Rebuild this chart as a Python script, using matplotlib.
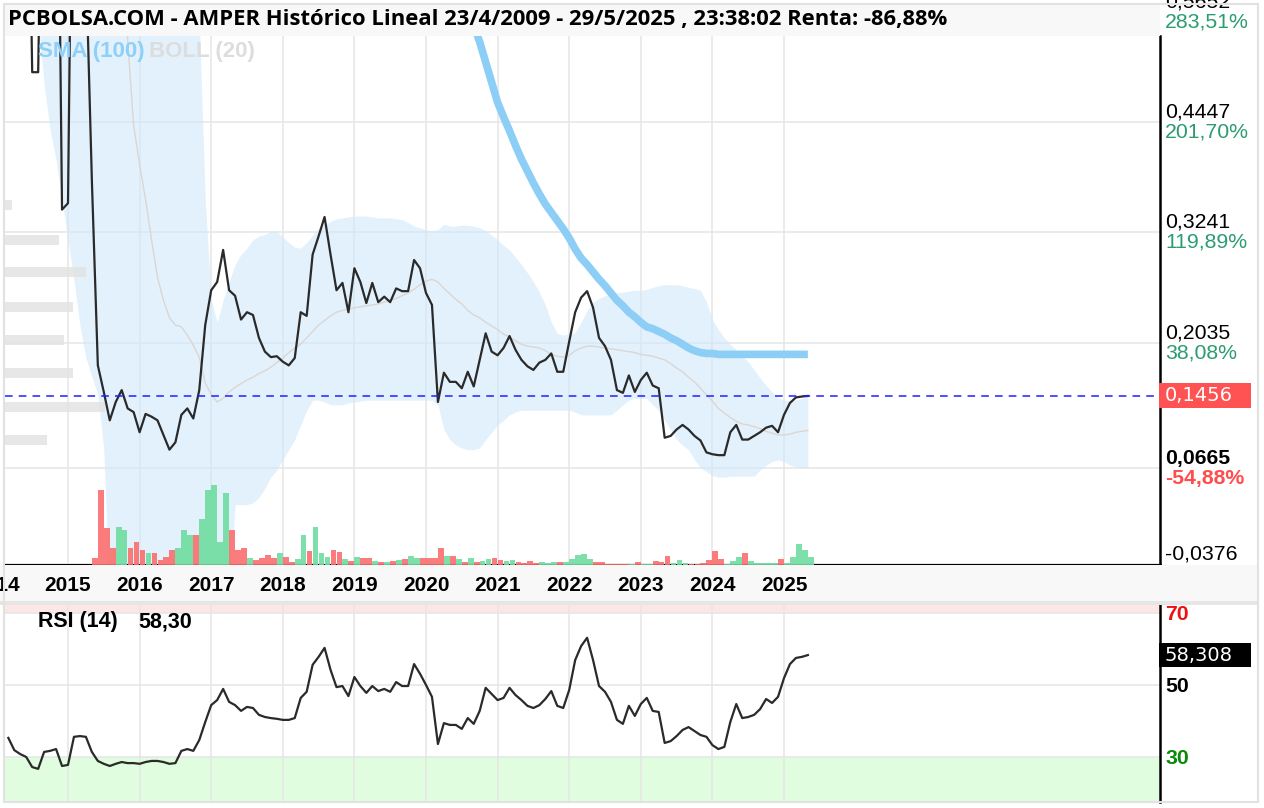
import numpy as np
import matplotlib
matplotlib.use("Agg")
import matplotlib.pyplot as plt
from matplotlib.patches import Rectangle

# ---- datos mensuales (marzo 2014 .. mayo 2025) ----
inicio = 2014 + 2 / 12

precio = [0.90, 0.90, 0.90, 0.90, 0.499, 0.499, 0.90, 0.95, 0.95, 0.349,
          0.356, 0.95, 0.95, 0.62, 0.381, 0.179, 0.150, 0.119, 0.139, 0.152,
          0.132, 0.128, 0.106, 0.126, 0.123, 0.119, 0.103, 0.087, 0.095, 0.125,
          0.132, 0.121, 0.152, 0.223, 0.261, 0.270, 0.305, 0.261, 0.255, 0.229,
          0.237, 0.234, 0.209, 0.194, 0.188, 0.189, 0.183, 0.179, 0.187, 0.237,
          0.233, 0.300, 0.320, 0.341, 0.300, 0.261, 0.269, 0.237, 0.285, 0.270,
          0.247, 0.269, 0.248, 0.254, 0.248, 0.263, 0.260, 0.260, 0.294, 0.285,
          0.258, 0.245, 0.139, 0.171, 0.161, 0.161, 0.154, 0.172, 0.156, 0.185,
          0.214, 0.194, 0.190, 0.198, 0.211, 0.196, 0.185, 0.178, 0.174, 0.182,
          0.185, 0.192, 0.172, 0.172, 0.205, 0.237, 0.253, 0.260, 0.242, 0.209,
          0.200, 0.185, 0.152, 0.149, 0.168, 0.150, 0.163, 0.171, 0.157, 0.154,
          0.100, 0.102, 0.109, 0.114, 0.109, 0.102, 0.097, 0.084, 0.082, 0.081,
          0.081, 0.106, 0.114, 0.098, 0.098, 0.102, 0.106, 0.111, 0.113, 0.106,
          0.125, 0.138, 0.144, 0.145, 0.1456]

boll_sup = [0.80] * 32 + [
          0.556, 0.360, 0.250, 0.226, 0.250, 0.270, 0.289, 0.300, 0.307, 0.316,
          0.320, 0.322, 0.325, 0.325, 0.319, 0.313, 0.308, 0.307, 0.313, 0.321,
          0.329, 0.333, 0.336, 0.339, 0.340, 0.341, 0.342, 0.342, 0.342, 0.341,
          0.340, 0.340, 0.340, 0.339, 0.338, 0.335, 0.331, 0.329, 0.327, 0.326,
          0.327, 0.333, 0.331, 0.331, 0.332, 0.332, 0.331, 0.329, 0.326, 0.321,
          0.316, 0.310, 0.305, 0.297, 0.289, 0.280, 0.270, 0.259, 0.245, 0.226,
          0.214, 0.212, 0.213, 0.215, 0.226, 0.239, 0.248, 0.252, 0.255, 0.257,
          0.258, 0.259, 0.260, 0.261, 0.261, 0.262, 0.264, 0.266, 0.267, 0.267,
          0.267, 0.266, 0.264, 0.263, 0.261, 0.248, 0.229, 0.218, 0.209, 0.202,
          0.196, 0.189, 0.183, 0.174, 0.165, 0.157, 0.150, 0.144, 0.141, 0.140,
          0.141, 0.143, 0.144]

boll_med = [0.70] * 20 + [
          0.534, 0.441, 0.398, 0.360, 0.316, 0.275, 0.250, 0.231, 0.223, 0.221,
          0.212, 0.201, 0.188, 0.160, 0.147, 0.139, 0.143, 0.150, 0.155, 0.159,
          0.163, 0.166, 0.170, 0.173, 0.177, 0.182, 0.187, 0.193, 0.198, 0.202,
          0.209, 0.216, 0.223, 0.228, 0.233, 0.237, 0.239, 0.240, 0.242, 0.243,
          0.244, 0.245, 0.246, 0.248, 0.250, 0.252, 0.255, 0.258, 0.262, 0.267,
          0.271, 0.273, 0.270, 0.263, 0.257, 0.251, 0.246, 0.239, 0.234, 0.231,
          0.226, 0.222, 0.218, 0.213, 0.210, 0.206, 0.202, 0.200, 0.199, 0.198,
          0.195, 0.191, 0.189, 0.188, 0.190, 0.195, 0.198, 0.200, 0.200, 0.199,
          0.198, 0.197, 0.196, 0.195, 0.194, 0.193, 0.191, 0.190, 0.189, 0.187,
          0.185, 0.181, 0.176, 0.172, 0.166, 0.161, 0.154, 0.147, 0.140, 0.132,
          0.127, 0.122, 0.118, 0.115, 0.114, 0.112, 0.110, 0.107, 0.105, 0.103,
          0.103, 0.104, 0.106, 0.107, 0.108]

boll_inf = [0.62, 0.62, 0.62, 0.62, 0.60,
          0.556, 0.485, 0.436, 0.403, 0.360, 0.316, 0.272, 0.223, 0.187, 0.167,
          0.147, 0.087] + [-0.08] * 21 + [
          0.027, 0.027, 0.027, 0.029, 0.035, 0.045, 0.057, 0.065,
          0.076, 0.087, 0.098, 0.114, 0.130, 0.141,
          0.141, 0.139, 0.136, 0.136, 0.136, 0.138, 0.139, 0.140, 0.141, 0.141,
          0.141, 0.141, 0.141, 0.141, 0.141, 0.141, 0.141, 0.141, 0.141, 0.141,
          0.136, 0.109, 0.098, 0.092, 0.089, 0.087, 0.087, 0.089, 0.098, 0.106,
          0.114, 0.119, 0.125, 0.128, 0.130, 0.130, 0.130, 0.130, 0.130, 0.130,
          0.130, 0.130, 0.130, 0.128, 0.125, 0.125, 0.125, 0.125, 0.125, 0.125,
          0.130, 0.136, 0.141, 0.143, 0.143, 0.143, 0.136, 0.130, 0.119, 0.109,
          0.098, 0.092, 0.087, 0.076, 0.067, 0.063, 0.059, 0.057, 0.057, 0.058,
          0.058, 0.058, 0.058, 0.058, 0.065, 0.070, 0.074, 0.076, 0.074, 0.070,
          0.068, 0.067, 0.067]

# SMA(100) empieza en el mes 77 de la serie
sma_desde = 77
sma = [0.58, 0.550, 0.532, 0.510, 0.488, 0.466, 0.450, 0.435, 0.419, 0.404,
       0.391, 0.378, 0.366, 0.355, 0.346, 0.337, 0.328, 0.318, 0.306, 0.296,
       0.289, 0.281, 0.273, 0.266, 0.258, 0.250, 0.244, 0.237, 0.232, 0.226,
       0.221, 0.219, 0.216, 0.213, 0.209, 0.206, 0.202, 0.198, 0.195, 0.193,
       0.192, 0.192, 0.191, 0.191, 0.191, 0.191, 0.191, 0.191, 0.191, 0.191,
       0.191, 0.191, 0.191, 0.191, 0.191, 0.191, 0.191, 0.191]

volumen = [0] * 14 + [
       7, 75, 37, 17, 38, 35, 17, 23, 15, 12,
       12, 5, 8, 15, 17, 35, 30, 30, 46, 75,
       80, 23, 72, 35, 15, 17, 7, 5, 7, 10,
       7, 12, 8, 3, 6, 30, 14, 38, 12, 8,
       15, 13, 6, 4, 8, 7, 7, 4, 3, 3,
       4, 5, 6, 9, 7, 7, 7, 7, 17, 9,
       9, 6, 3, 7, 3, 4, 6, 7, 5, 4,
       5, 3, 2, 4, 2, 3, 2, 3, 3, 3,
       6, 10, 11, 6, 3, 3, 1, 1, 1, 1,
       1, 3, 1, 1, 4, 3, 9, 2, 5, 2,
       1, 1, 2, 5, 14, 6, 1, 4, 8, 12,
       4, 2, 2, 2, 2, 6, 2, 8, 21, 15, 8]

rsi = [35.3, 31.9, 30.8, 30.0, 27.2, 26.7, 31.4, 31.7, 32.2, 27.5,
       27.8, 35.6, 35.8, 35.6, 31.4, 28.9, 28.1, 27.5, 28.1, 28.6,
       28.3, 28.3, 28.1, 28.6, 28.9, 28.9, 28.6, 28.1, 28.3, 31.7,
       32.2, 31.7, 34.7, 39.7, 44.4, 45.8, 48.9, 45.3, 44.4, 42.8,
       43.9, 43.6, 41.7, 41.1, 40.8, 40.6, 40.3, 40.3, 40.8, 46.4,
       48.1, 55.6, 57.8, 60.3, 54.2, 49.4, 49.7, 46.9, 52.2, 49.7,
       47.8, 49.7, 48.3, 48.9, 48.1, 50.8, 49.7, 49.7, 55.8, 53.1,
       50.0, 46.7, 33.6, 39.4, 38.9, 38.9, 37.8, 40.8, 39.2, 42.8,
       49.2, 47.5, 45.8, 46.4, 49.2, 47.2, 45.8, 44.2, 43.6, 44.4,
       46.1, 48.3, 44.2, 43.6, 48.6, 56.9, 60.8, 63.1, 56.9, 49.7,
       48.1, 45.3, 40.3, 39.2, 44.2, 41.4, 44.7, 46.4, 42.8, 42.5,
       33.9, 34.4, 35.8, 37.5, 38.3, 37.2, 36.1, 35.6, 33.3, 32.2,
       32.8, 39.7, 44.7, 40.8, 41.1, 41.7, 43.3, 46.1, 45.0, 46.7,
       51.9, 55.8, 57.5, 57.8, 58.3]

# perfil de volumen por precio (barras grises a la izquierda)
perfil_niveles = [0.354, 0.316, 0.281, 0.243, 0.207, 0.171, 0.134, 0.098]
perfil_vol = [7, 54, 81, 68, 59, 68, 100, 42]

niveles = [0.5652, 0.4447, 0.3241, 0.2035, 0.0665, -0.0376]
etq_precio = ["0,5652", "0,4447", "0,3241", "0,2035", "0,0665", "-0,0376"]
etq_pct = ["283,51%", "201,70%", "119,89%", "38,08%", "-54,88%", "-125,50%"]
ultimo = 0.1456
rsi_ultimo = 58.308
anios = list(range(2014, 2026))

titulo = "PCBOLSA.COM - AMPER Histórico Lineal 23/4/2009 - 29/5/2025 , 23:38:02 Renta: -86,88%"

# ---- figura ----
W, H = 1264, 808
fig = plt.figure(figsize=(W / 100, H / 100), dpi=100)
fig.patch.set_facecolor("white")


def fx(px):
    return px / W


def fy(py):
    return 1 - py / H


t = inicio + np.arange(len(precio)) / 12
x0 = 2015 - 63 / 71.6
x1 = 2015 + 1092 / 71.6
grid_c = "#e6e6e6"
verde = "#2b9c70"
rojo = "#ff4d4d"

ax = fig.add_axes([fx(5), fy(565), fx(1160) - fx(5), fy(36) - fy(565)])
ax.set_xlim(x0, x1)
ax.set_ylim(-0.0389, 0.5385)
for a in anios:
    ax.axvline(a, color=grid_c, lw=1.1, zorder=0)
for v in niveles:
    ax.axhline(v, color=grid_c, lw=1.1, zorder=0)

ax.fill_between(t, boll_inf, boll_sup, color="#cfe8fb", alpha=0.6, lw=0, zorder=1)
ax.barh(perfil_niveles, np.array(perfil_vol) / 71.6, left=x0, height=0.011,
        color="#e3e3e3", alpha=0.85, zorder=1)
ax.plot(t, boll_med, color="#dcd6d2", lw=1.0, zorder=2)
ax.plot(t[sma_desde:sma_desde + len(sma)], sma, color="#8dcef7", lw=5.5,
        solid_capstyle="butt", zorder=3)
ax.plot(t, precio, color="#2a2a2a", lw=1.6, zorder=4)
ax.axhline(ultimo, color="#2020ff", lw=1.1, ls=(0, (5, 4)), zorder=5)

for s in ["top", "left"]:
    ax.spines[s].set_visible(False)
ax.spines["right"].set_linewidth(1.8)
ax.spines["bottom"].set_linewidth(2.2)
ax.set_xticks([])
ax.set_yticks([])

for v, e, p in zip(niveles, etq_precio, etq_pct):
    neg = v < ultimo
    bold = "bold" if e == "0,0665" else "normal"
    ax.annotate(e, xy=(1, v), xycoords=("axes fraction", "data"), xytext=(3.6, 7.2),
                textcoords="offset points", va="center", ha="left", fontsize=15.3,
                family="Liberation Sans", fontweight=bold, color="black",
                annotation_clip=False)
    ax.annotate(p, xy=(1, v), xycoords=("axes fraction", "data"), xytext=(3.6, -7.2),
                textcoords="offset points", va="center", ha="left", fontsize=15.3,
                family="Liberation Sans", fontweight=bold,
                color=rojo if neg else verde, annotation_clip=False)

# caja del último precio
ax.add_patch(Rectangle((1 - 1 / 1155, ultimo - 0.0136), 92 / 1155, 0.0273,
                       transform=ax.get_yaxis_transform(), facecolor="#ff5252",
                       edgecolor="none", clip_on=False, zorder=6))
ax.annotate("0,1456", xy=(1, ultimo), xycoords=("axes fraction", "data"),
            xytext=(3.6, 0), textcoords="offset points", va="center", ha="left",
            fontsize=14, family="DejaVu Sans", color="white", annotation_clip=False,
            zorder=7)

ax.text((38 - 5) / 1155, 1 - 16 / 529, "SMA (100)", transform=ax.transAxes,
        color="#8fd0f8", fontsize=16, fontweight="bold", family="Liberation Sans",
        va="center", zorder=6)
ax.text((149 - 5) / 1155, 1 - 16 / 529, "BOLL (20)", transform=ax.transAxes,
        color="#dddddd", fontsize=16, fontweight="bold", family="Liberation Sans",
        va="center", zorder=6)

# volumen
axv = ax.twinx()
axv.set_ylim(0, 529)
up = np.diff(np.array(precio), prepend=precio[0]) >= 0
cols = np.where(up, "#6fdca0", "#fb6e6e")
axv.bar(t, volumen, width=1 / 12 * 0.97, align="edge", color=cols, alpha=0.9, lw=0)
axv.set_yticks([])
for s in axv.spines.values():
    s.set_visible(False)

# banda de años
bax = fig.add_axes([fx(0), fy(603), fx(1258), fy(565) - fy(603)], zorder=3)
bax.set_facecolor("#f8f8f8")
bax.set_xlim(2015 - 68 / 71.6, 2015 - 68 / 71.6 + 1258 / 71.6)
bax.set_ylim(0, 1)
for a in anios:
    bax.text(a, 0.45, str(a), ha="center", va="center", fontsize=15,
             fontweight="bold", family="Liberation Sans")
bax.set_xticks([])
bax.set_yticks([])
for s in bax.spines.values():
    s.set_visible(False)

# RSI
rax = fig.add_axes([fx(5), fy(802), fx(1160) - fx(5), fy(605) - fy(802)])
rax.set_xlim(x0, x1)
rax.set_ylim(17.5, 72.2)
rax.axhspan(70, 80, color="#fde6e6", lw=0, zorder=0)
rax.axhspan(0, 30, color="#e0fde0", lw=0, zorder=0)
for a in anios:
    rax.axvline(a, color=grid_c, lw=1.1, zorder=0.5)
for v in [30, 50, 70]:
    rax.axhline(v, color=grid_c, lw=1.1, zorder=0.5)
rax.plot(t, rsi, color="#2a2a2a", lw=1.6, zorder=3)
rax.set_xticks([])
rax.set_yticks([])
for s in ["top", "left", "bottom"]:
    rax.spines[s].set_visible(False)
rax.spines["right"].set_linewidth(1.8)
for v, c in [(70, "#ee1111"), (50, "black"), (30, "#0a8a0a")]:
    rax.annotate(str(v), xy=(1, v), xycoords=("axes fraction", "data"), xytext=(3.6, -0.8),
                 textcoords="offset points", va="center", ha="left", fontsize=15.3,
                 fontweight="bold", family="Liberation Sans", color=c,
                 annotation_clip=False)
rax.add_patch(Rectangle((1 - 1 / 1155, rsi_ultimo - 3.3), 92 / 1155, 6.6,
                        transform=rax.get_yaxis_transform(), facecolor="black",
                        edgecolor="none", clip_on=False, zorder=6))
rax.annotate("58,308", xy=(1, rsi_ultimo), xycoords=("axes fraction", "data"),
             xytext=(3.6, 0), textcoords="offset points", va="center", ha="left",
             fontsize=14, family="DejaVu Sans", color="white", annotation_clip=False,
             zorder=7)
rax.text((38 - 5) / 1155, 1 - 17 / 197, "RSI (14)", transform=rax.transAxes,
         fontsize=15.5, fontweight="bold", family="Liberation Sans", va="center")
rax.text((138 - 5) / 1155, 1 - 17 / 197, "58,30", transform=rax.transAxes,
         fontsize=15.5, fontweight="bold", family="Liberation Sans", va="center")

# barra de título, separadores y marco
fig.add_artist(Rectangle((fx(5), fy(36)), fx(1160) - fx(5), fy(4) - fy(36),
                         transform=fig.transFigure, facecolor="#f8f8f8",
                         edgecolor="none", zorder=4))
fig.text(fx(8), fy(19), titulo, fontsize=15.8, fontweight="bold", family="Open Sans",
         va="center", ha="left", zorder=5)
fig.add_artist(Rectangle((fx(0), fy(605)), fx(1258), fy(601) - fy(605),
                         transform=fig.transFigure, facecolor="#e6e6e6",
                         edgecolor="none", zorder=4))
fig.add_artist(Rectangle((fx(4), fy(802)), fx(1258) - fx(4), fy(4) - fy(802),
                         transform=fig.transFigure, facecolor="none",
                         edgecolor="#e2e2e2", lw=1.5, zorder=6))

fig.savefig("out.png", dpi=100, facecolor="white")
